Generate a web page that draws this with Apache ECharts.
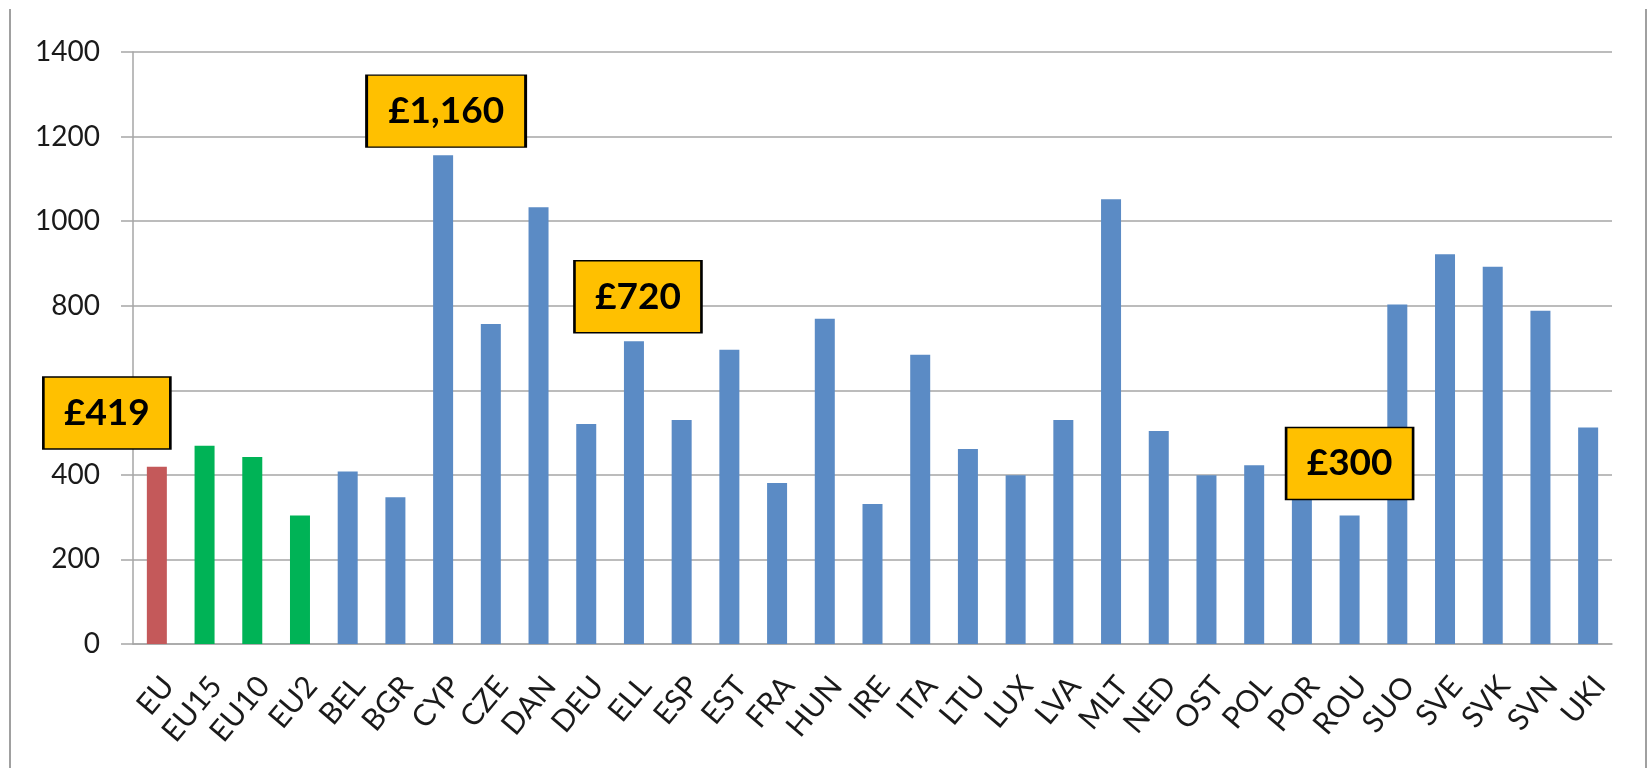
<!DOCTYPE html>
<html lang="en" style="height: 100%">

<head>
    <meta charset="UTF-8">
    <title>Document</title>
    <script type="text/javascript" src="https://cdn.jsdelivr.net/npm/echarts@6/dist/echarts.min.js"></script>
</head>

<body style="height: 100%; margin: 0; background: #fff">
    <div id="container" style="height: 100%"></div>
    <script type="text/javascript">
    var categories = ['EU', 'EU15', 'EU10', 'EU2', 'BEL', 'BGR', 'CYP', 'CZE', 'DAN', 'DEU', 'ELL', 'ESP', 'EST', 'FRA', 'HUN', 'IRE',
        'ITA', 'LTU', 'LUX', 'LVA', 'MLT', 'NED', 'OST', 'POL', 'POR', 'ROU', 'SUO', 'SVE', 'SVK', 'SVN', 'UKI'];
    var values = [419, 469, 442, 304, 408, 347, 1156, 757, 1033, 520, 716, 530, 696, 381, 769, 331,
        684, 461, 399, 530, 1052, 504, 399, 423, 450, 304, 803, 922, 892, 788, 512];
    var yTicks = [0, 200, 400, 600, 800, 1000, 1200, 1400];

    // callout boxes: text, category they sit over, value level of their centre
    var calloutText = ['£419', '£1,160', '£720', '£300'];
    var calloutCat = ['EU', 'CYP', 'ELL', 'ROU'];
    var calloutLevel = [546, 1260, 821, 427];

    var font = 'Lato, "Open Sans", sans-serif';
    var gray = '#a6a6a6';

    var myChart = echarts.init(document.getElementById('container'));

    var calloutShift = [[-50, 0], [3, 0], [4, 0], [0, 0]];
    var calloutSize = [[127, 72], [159, 72], [127, 72], [127, 72]];

    var option = {
        backgroundColor: '#fff',
        animation: false,
        graphic: [{
            type: 'line',
            shape: { x1: 10, y1: 9, x2: 10, y2: 768 },
            style: { stroke: '#a0a0a0', lineWidth: 2 }
        }, {
            type: 'line',
            shape: { x1: 1646, y1: 9, x2: 1646, y2: 768 },
            style: { stroke: '#a0a0a0', lineWidth: 2 }
        }],
        grid: {
            left: 133,
            right: 36,
            top: 52,
            bottom: 124
        },
        xAxis: {
            type: 'category',
            data: categories,
            axisLine: { lineStyle: { color: gray, width: 1.5 } },
            axisTick: { length: 10, lineStyle: { color: gray, width: 1.5 }, interval: 0 },
            axisLabel: {
                interval: 0,
                rotate: 50,
                margin: 27,
                align: 'right',
                verticalAlign: 'top',
                fontSize: 30,
                fontFamily: font,
                color: '#1a1a1a'
            }
        },
        yAxis: {
            type: 'value',
            min: yTicks[0],
            max: yTicks[yTicks.length - 1],
            interval: yTicks[1] - yTicks[0],
            axisLine: { show: true, lineStyle: { color: gray, width: 1.5 } },
            axisTick: { show: true, length: 12, lineStyle: { color: gray, width: 1.5 } },
            axisLabel: {
                margin: 33,
                fontSize: 28,
                fontFamily: font,
                color: '#1a1a1a',
                formatter: function(v) { return String(v); }
            },
            splitLine: { lineStyle: { color: gray, width: 1.5 } }
        },
        series: [{
            type: 'bar',
            barWidth: 20,
            data: values,
            itemStyle: {
                color: function(p) {
                    if (p.dataIndex === 0) return '#c4595a';
                    if (p.dataIndex <= 3) return '#00b356';
                    return '#5b8bc5';
                }
            },
            markPoint: {
                symbol: 'rect',
                silent: true,
                data: calloutText.map(function(t, i) {
                    return {
                        coord: [calloutCat[i], calloutLevel[i]],
                        symbolSize: calloutSize[i],
                        symbolOffset: calloutShift[i],
                        itemStyle: { color: '#ffc000', borderColor: '#000', borderWidth: 2 },
                        label: {
                            show: true,
                            position: 'inside',
                            formatter: t,
                            fontSize: 37,
                            fontWeight: 'bold',
                            fontFamily: font,
                            color: '#000'
                        }
                    };
                })
            }
        }]
    };

    myChart.setOption(option);
    </script>
</body>

</html>
